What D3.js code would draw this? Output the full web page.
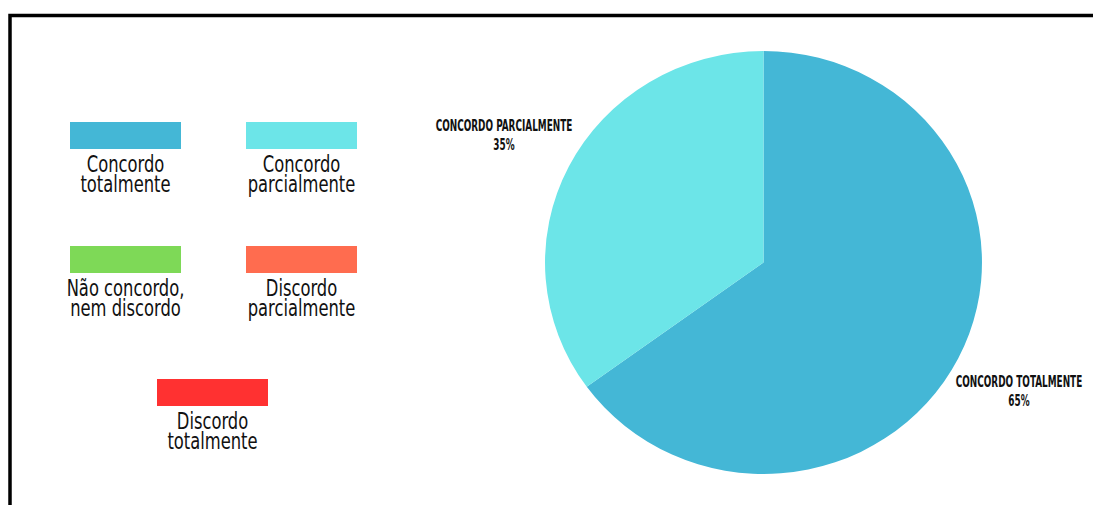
<!DOCTYPE html>
<html>
<head>
<meta charset="utf-8">
<script src="https://cdn.jsdelivr.net/npm/d3@7"></script>
<style>
  body { margin: 0; background: #fff; }
</style>
</head>
<body>
<div id="vis"></div>
<script>
// answers and shares
const categories = ["Concordo totalmente", "Concordo parcialmente", "Não concordo, nem discordo", "Discordo parcialmente", "Discordo totalmente"];
const values = [65, 35, 0, 0, 0];
const colors = ["#44b7d6", "#6ce5e8", "#7ed957", "#ff6c4f", "#ff3131"];
const legendLines = [["Concordo", "totalmente"], ["Concordo", "parcialmente"], ["Não concordo,", "nem discordo"], ["Discordo", "parcialmente"], ["Discordo", "totalmente"]];

const FRAME_WIDTH = 1093;
const FRAME_HEIGHT = 505;

const svg = d3.select("#vis")
  .append("svg")
  .attr("width", FRAME_WIDTH)
  .attr("height", FRAME_HEIGHT);

// frame border (runs off the right and bottom edges)
svg.append("rect")
  .attr("x", 10)
  .attr("y", 15.5)
  .attr("width", 1200)
  .attr("height", 600)
  .attr("fill", "none")
  .attr("stroke", "#000")
  .attr("stroke-width", 3.5);

// legend
const legPos = [[70, 122], [246, 122], [70, 246], [246, 246], [157, 379]];
const LEG_W = 111, LEG_H = 27;
const leg = svg.append("g").selectAll("g")
  .data(categories)
  .enter()
  .append("g")
  .attr("transform", (d, i) => `translate(${legPos[i][0]},${legPos[i][1]})`);

leg.append("rect")
  .attr("width", LEG_W)
  .attr("height", LEG_H)
  .attr("fill", (d, i) => colors[i]);

leg.each(function(d, i) {
  const t = d3.select(this).append("text")
    .attr("text-anchor", "middle")
    .attr("font-family", "'Liberation Sans Narrow', 'DejaVu Sans Condensed', sans-serif")
    .attr("font-size", "23px")
    .attr("fill", "#111")
    .attr("transform", `translate(${LEG_W / 2},0) scale(0.79,1)`);
  legendLines[i].forEach((line, j) => {
    t.append("tspan")
      .attr("x", 0)
      .attr("y", 50 + j * 20)
      .text(line);
  });
});

// pie
const cx = 763.5, cy = 262.5, R = 211.5;
const pie = d3.pie().sort(null).value(d => d);
const arc = d3.arc().innerRadius(0).outerRadius(R);
const arcs = pie(values).map((a, i) => ({...a, i})).filter(a => a.value > 0);

const pieG = svg.append("g")
  .attr("transform", `translate(${cx},${cy}) scale(1.033,1)`);

pieG.selectAll("path")
  .data(arcs)
  .enter()
  .append("path")
  .attr("d", arc)
  .attr("fill", d => colors[d.i]);

// slice labels
const labelPos = [[1019, 387], [504, 131]];
const lab = svg.append("g").selectAll("text")
  .data(arcs)
  .enter()
  .append("text")
  .attr("text-anchor", "middle")
  .attr("font-family", "'Liberation Sans Narrow', 'DejaVu Sans Condensed', sans-serif")
  .attr("font-weight", "bold")
  .attr("font-size", "15px")
  .attr("fill", "#111")
  .attr("transform", d => `translate(${labelPos[d.i][0]},${labelPos[d.i][1]}) scale(0.66,1)`);

lab.append("tspan")
  .attr("x", 0)
  .attr("y", 0)
  .text(d => categories[d.i].toUpperCase());
lab.append("tspan")
  .attr("x", 0)
  .attr("y", 19)
  .text(d => d.value + "%");
</script>
</body>
</html>
